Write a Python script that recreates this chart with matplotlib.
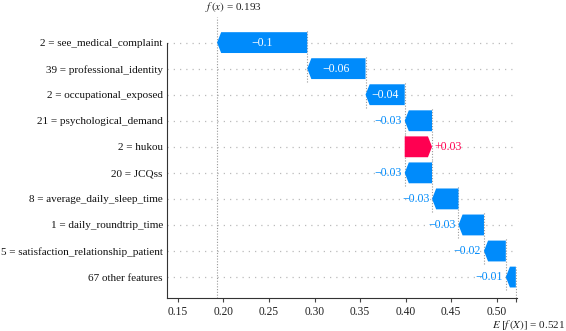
import matplotlib
matplotlib.use("Agg")
import matplotlib.pyplot as plt
from matplotlib.patches import Polygon
import numpy as np

plt.rcParams['font.family'] = ['Liberation Serif', 'DejaVu Serif']
plt.rcParams['mathtext.fontset'] = 'stix'

# SHAP waterfall values, top row first
features = ["2 = see_medical_complaint", "39 = professional_identity",
            "2 = occupational_exposed", "21 = psychological_demand",
            "2 = hukou", "20 = JCQss", "8 = average_daily_sleep_time",
            "1 = daily_roundtrip_time", "5 = satisfaction_relationship_patient",
            "67 other features"]
shap_vals = [-0.099, -0.064, -0.043, -0.030, 0.030, -0.030, -0.029,
             -0.028, -0.024, -0.011]
labels = ["\u22120.1", "\u22120.06", "\u22120.04", "\u22120.03", "+0.03",
          "\u22120.03", "\u22120.03", "\u22120.03", "\u22120.02", "\u22120.01"]
base_value = 0.521
fx = 0.193

blue = "#008bfb"
red = "#ff0051"

fig = plt.figure(figsize=(5.66, 3.31), dpi=100)
ax = fig.add_axes([0.295, 0.1, 0.618, 0.85])

n = len(features)
rows = np.arange(n)[::-1]  # top feature at highest y
bar_h = 0.8
head = 0.0045

# walk up from the base value (bottom row) to f(x)
ends = {}
loc = base_value
for i in range(n - 1, -1, -1):
    start = loc
    end = loc + shap_vals[i]
    ends[i] = (start, end)
    loc = end

for i in range(n):
    ax.axhline(rows[i], color="#bbbbbb", lw=0.9, dashes=(1, 4), zorder=-1)

for i in range(n):
    y = rows[i]
    start, end = ends[i]
    v = shap_vals[i]
    col = red if v > 0 else blue
    sgn = 1 if v > 0 else -1
    w = abs(v)
    h = min(head, w)
    body_end = end - sgn * h
    pts = [(start, y - bar_h / 2), (body_end, y - bar_h / 2), (end, y),
           (body_end, y + bar_h / 2), (start, y + bar_h / 2)]
    ax.add_patch(Polygon(pts, closed=True, facecolor=col, edgecolor="none", zorder=3))
    # connector to the next bar above
    if i > 0:
        ax.plot([end, end], [y - bar_h / 2 - 0.1, y + 1 + bar_h / 2 + 0.1], color="#999999",
                lw=0.8, dashes=(1, 1.5), zorder=2)
    if w > 0.035:
        ax.text((start + end) / 2, y, labels[i], color="white", ha="center",
                va="center", fontsize=8.5, zorder=4)
    else:
        ax.text(end + sgn * 0.003, y, labels[i], color=col,
                ha="left" if v > 0 else "right", va="center", fontsize=8.5, zorder=4)

# E[f(X)] connector at bottom
ax.plot([base_value, base_value], [-0.8, rows[-1] + bar_h / 2], color="#999999",
        lw=0.8, dashes=(1, 1.5), zorder=2)
# f(x) line
ax.plot([fx, fx], [-0.8, n], color="#999999", lw=0.8, dashes=(1, 1.5), zorder=1)

ax.set_xlim(0.138, 0.522)
ax.set_ylim(-0.8, n)
ax.set_yticks(rows)
ax.set_yticklabels(features, fontsize=8.0, color="#111111")
ax.tick_params(axis="y", length=0, pad=3)
ticks = [0.15, 0.20, 0.25, 0.30, 0.35, 0.40, 0.45, 0.50]
ax.set_xticks(ticks + [base_value])
ax.set_xticklabels(["%.2f" % t for t in ticks] + [""], fontsize=8.3, color="#222222")
ax.tick_params(axis="x", length=3, width=0.8, color="#444444", pad=2.5)
for s in ["top", "right"]:
    ax.spines[s].set_visible(False)
ax.spines["left"].set_bounds(-0.8, rows[0])
ax.spines["left"].set_color("#333333")
ax.spines["bottom"].set_color("#333333")

ax.annotate("$f\\,(x)$ = 0.193", xy=(fx, 1), xycoords=("data", "axes fraction"),
            xytext=(11.5, 2), textcoords="offset points", ha="center", va="bottom",
            fontsize=8, color="#222222")
ax.annotate("$E\\;[f\\,(X)]$ = 0.521", xy=(base_value, 0), xycoords=("data", "axes fraction"),
            xytext=(9, -14.3), textcoords="offset points", ha="center", va="top",
            fontsize=8, color="#222222")

fig.savefig("out.png", dpi=100)
